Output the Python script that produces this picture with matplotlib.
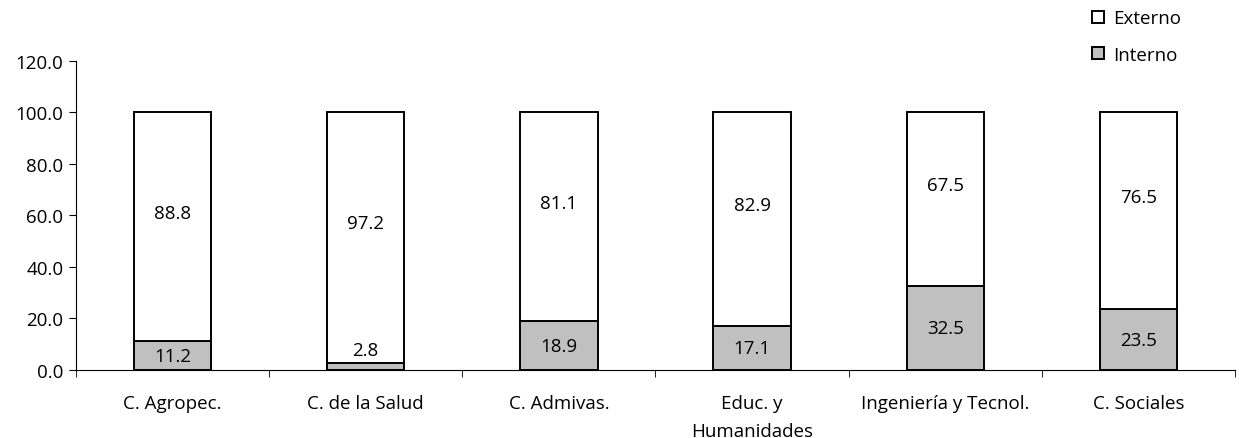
import matplotlib.pyplot as plt
import numpy as np

categories = ["C. Agropec.", "C. de la Salud", "C. Admivas.",
              "Educ. y\nHumanidades", "Ingeniería y Tecnol.", "C. Sociales"]
interno = [11.2, 2.8, 18.9, 17.1, 32.5, 23.5]
externo = [88.8, 97.2, 81.1, 82.9, 67.5, 76.5]

plt.rcParams['font.family'] = ['Open Sans', 'DejaVu Sans']
plt.rcParams['font.size'] = 13.5

fig = plt.figure(figsize=(12.39, 4.39), dpi=100)
ax = fig.add_axes([0.0613, 0.155, 0.9355, 0.704])

x = np.arange(len(categories))
w = 0.4
b1 = ax.bar(x, interno, w, color="#c0c0c0", edgecolor="black", linewidth=1.4,
            label="Interno")
b2 = ax.bar(x, externo, w, bottom=interno, color="white", edgecolor="black",
            linewidth=1.4, label="Externo")

for i in range(len(x)):
    if interno[i] < 5:
        ax.text(x[i], interno[i] + 1.5, f"{interno[i]:.1f}", ha="center",
                va="bottom")
    else:
        ax.text(x[i], interno[i] / 2, f"{interno[i]:.1f}", ha="center",
                va="center")
    ax.text(x[i], interno[i] + externo[i] / 2 + 5.5, f"{externo[i]:.1f}",
            ha="center", va="center")

ax.set_xlim(-0.5, len(x) - 0.5)
ax.set_ylim(0, 120)
ax.set_yticks(np.arange(0, 121, 20))
ax.set_yticklabels([f"{v:.1f}" for v in np.arange(0, 121, 20)])
ax.set_xticks(x)
ax.set_xticklabels(categories, linespacing=1.75)
ax.tick_params(axis="x", length=0, pad=17)
ax.set_xticks(np.arange(-0.5, len(x), 1), minor=True)
ax.tick_params(axis="x", which="minor", length=5, direction="out")
ax.tick_params(axis="y", length=5, direction="out", pad=4)
for s in ["top", "right"]:
    ax.spines[s].set_visible(False)

handles = [b2, b1]
fig.legend(handles, ["Externo", "Interno"], loc="upper left",
           bbox_to_anchor=(0.868, 1.015), frameon=False, handlelength=0.6,
           handleheight=0.6, handletextpad=0.5, labelspacing=1.0)

plt.savefig("out.png")
